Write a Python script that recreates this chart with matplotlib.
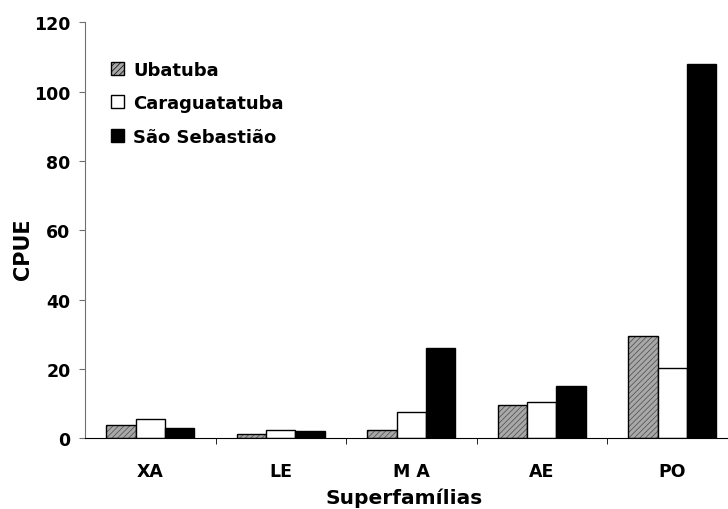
import numpy as np
import matplotlib
matplotlib.use('Agg')
from matplotlib import pyplot as plt
from matplotlib.patches import Patch

# data
categories = ['XA', 'LE', 'M A', 'AE', 'PO']
ubatuba = [3.7, 1.2, 2.5, 9.5, 29.5]
caraguatatuba = [5.5, 2.5, 7.5, 10.5, 20.3]
sao_sebastiao = [3.0, 2.2, 26.0, 15.0, 108.0]
series_names = ['Ubatuba', 'Caraguatatuba', 'São Sebastião']

plt.rcParams['font.family'] = ['DejaVu Sans']
plt.rcParams['font.weight'] = 'bold'
plt.rcParams['hatch.linewidth'] = 0.5

W, H = 728, 510
fig = plt.figure(figsize=(W / 100, H / 100), dpi=100)
# axes runs a bit past the right edge, like the original
ax = fig.add_axes([85 / W, 1 - 439.3 / H, 652.5 / W, 416 / H])

x = np.arange(len(categories))
w = 0.225
# hatched fill first (hatch takes the edge colour), black outline on top
ax.bar(x - w, ubatuba, w, facecolor='#a8a8a8', edgecolor='#4a4a4a', hatch='//////',
       linewidth=0)
ax.bar(x - w, ubatuba, w, fill=False, edgecolor='black', linewidth=1)
ax.bar(x, caraguatatuba, w, facecolor='white', edgecolor='black', linewidth=1)
ax.bar(x + w, sao_sebastiao, w, facecolor='black', edgecolor='black', linewidth=1)

ax.set_xlim(-0.5, len(categories) - 0.5)
ax.set_ylim(0, 120)
ax.set_yticks(np.arange(0, 121, 20))
ax.set_xticks(x)
ax.set_xticklabels(categories)
ax.set_xticks(np.arange(0.5, len(categories) - 0.5, 1), minor=True)
ax.tick_params(axis='x', which='major', length=0, pad=17, labelsize=12.5)
ax.tick_params(axis='x', which='minor', length=4.5, direction='out')
ax.tick_params(axis='y', length=4.5, direction='out', labelsize=12.5,
               pad=6, color='#707070')

for s in ['top', 'right']:
    ax.spines[s].set_visible(False)
ax.spines['left'].set_color('#707070')

fig.text(404.5 / W, 1 - 498 / H, 'Superfamílias', ha='center', va='center',
         fontsize=14.5, fontweight='bold')
fig.text(23.5 / W, 1 - 249 / H, 'CPUE', ha='center', va='center',
         rotation=90, fontsize=15, fontweight='bold')

handles = [Patch(facecolor='#a8a8a8', edgecolor='black', hatch='//////', linewidth=1),
           Patch(facecolor='white', edgecolor='black', linewidth=1),
           Patch(facecolor='black', edgecolor='black', linewidth=1)]
ax.legend(handles, series_names, loc='upper left',
          bbox_to_anchor=((111 - 85) / 652.5, 0.908),
          frameon=False, borderpad=0, borderaxespad=0,
          fontsize=13, handlelength=0.72, handleheight=0.72, handletextpad=0.5,
          labelspacing=0.86)

fig.savefig('out.png', dpi=100)
